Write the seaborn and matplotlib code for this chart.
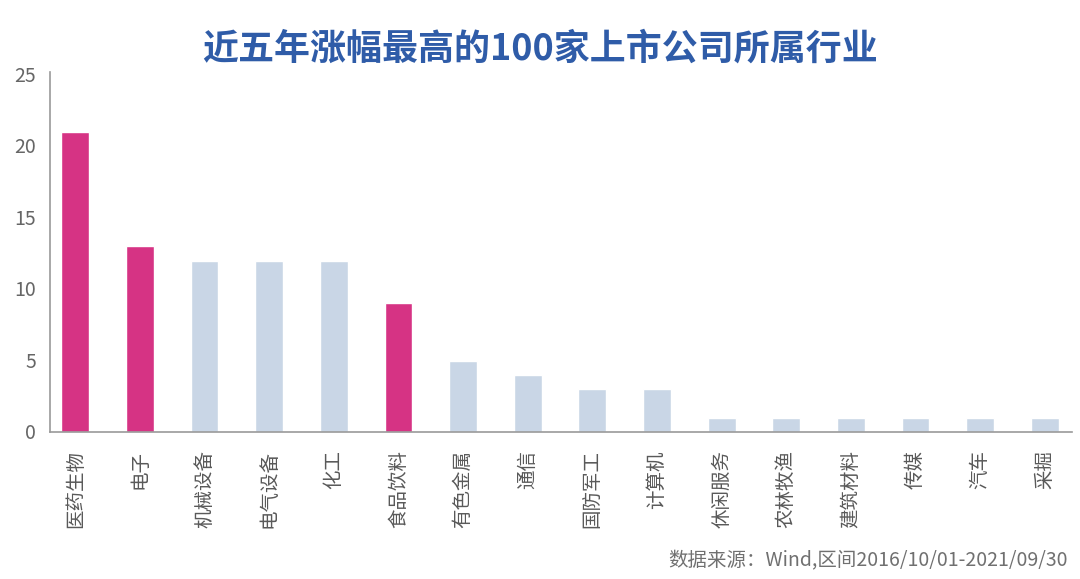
import matplotlib
matplotlib.use("Agg")
import matplotlib.pyplot as plt
from matplotlib.transforms import ScaledTranslation
import seaborn as sns
import pandas as pd

# Data
industries = ["医药生物", "电子", "机械设备", "电气设备", "化工", "食品饮料", "有色金属", "通信",
              "国防军工", "计算机", "休闲服务", "农林牧渔", "建筑材料", "传媒", "汽车", "采掘"]
counts = [21, 13, 12, 12, 12, 9, 5, 4, 3, 3, 1, 1, 1, 1, 1, 1]
highlight = ["医药生物", "电子", "食品饮料"]

PINK = "#D63384"
LIGHT = "#C9D6E6"

sns.set_theme(style="white")
plt.rcParams["font.family"] = ["Noto Sans CJK SC", "DejaVu Sans"]

df = pd.DataFrame({"industry": industries, "count": counts})
palette = {k: (PINK if k in highlight else LIGHT) for k in industries}

fig = plt.figure(figsize=(10.8, 5.79), dpi=100)
ax = fig.add_axes([0.0463, 0.2539, 0.9463, 0.6217])

sns.barplot(data=df, x="industry", y="count", hue="industry", palette=palette,
            legend=False, width=0.43, saturation=1, ax=ax)

ax.set_xlim(-0.39, 15.42)
ax.set_ylim(0, 25.2)
ax.set_yticks([0, 5, 10, 15, 20, 25])
ax.set_xlabel("")
ax.set_ylabel("")

for s in ["top", "right"]:
    ax.spines[s].set_visible(False)
for s in ["left", "bottom"]:
    ax.spines[s].set_color("#9a9a9a")
    ax.spines[s].set_linewidth(1.2)

ax.tick_params(axis="y", length=0, pad=10, labelsize=14, labelcolor="#666666")
ax.tick_params(axis="x", length=0, pad=13, labelsize=14, labelcolor="#595959")
plt.setp(ax.get_xticklabels(), rotation=90, va="top", ha="center")

off = ScaledTranslation(0, 1 / 100, fig.dpi_scale_trans)
for lab in ax.get_yticklabels():
    lab.set_transform(lab.get_transform() + off)

fig.text(0.5, 0.915, "近五年涨幅最高的100家上市公司所属行业", ha="center", va="center",
         fontsize=25.9, fontweight="bold", color="#2F5CA8")
fig.text(0.989, 0.031, "数据来源：Wind,区间2016/10/01-2021/09/30", ha="right", va="center",
         fontsize=14, color="#707070")

fig.savefig("out.png", dpi=100)
